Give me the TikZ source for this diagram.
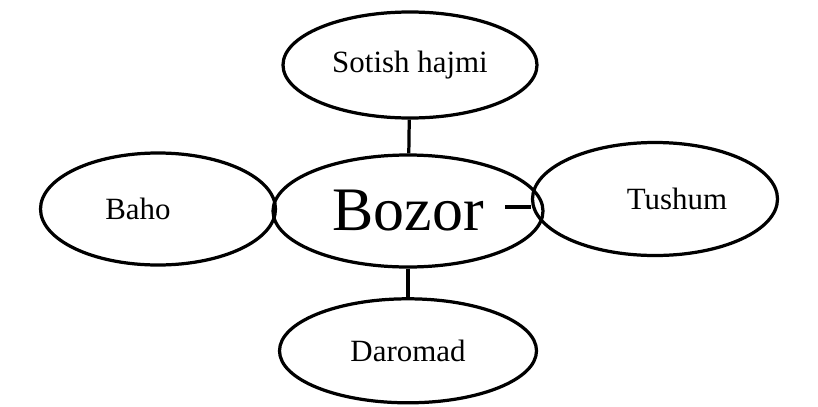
\documentclass[tikz,border=0pt]{standalone}
\usepackage{fontspec}
\setmainfont{Liberation Serif}
\usetikzlibrary{shapes.geometric}

\begin{document}
\begin{tikzpicture}[
    oval/.style={draw, ellipse, line width=2.3pt, inner sep=0pt, font=\fontsize{22}{26}\selectfont},
    link/.style={line width=2.3pt}]
\useasboundingbox (0,0) rectangle (20.45,10.15);

\node[oval, minimum width=6.75cm, minimum height=2.8cm, font=\fontsize{44}{50}\selectfont] (bozor) at (10.20,4.875) {Bozor};
\node[oval, minimum width=6.35cm, minimum height=2.65cm] (sotish) at (10.25,8.525) {Sotish hajmi};
\node[oval, minimum width=5.875cm, minimum height=2.8cm] (baho) at (3.95,4.925) {Baho\hspace{1cm}\mbox{}};
\node[oval, minimum width=6.125cm, minimum height=2.825cm] (tushum) at (16.375,5.175) {\hspace{1.1cm}Tushum};
\node[oval, minimum width=6.425cm, minimum height=2.6cm] (daromad) at (10.20,1.38) {Daromad};

\coordinate (dash) at (12.625,4.975);

\draw[link] (sotish) -- (bozor);
\draw[link] (bozor) -- (daromad);
\draw[link] (dash) -- (dash -| tushum.west);

\end{tikzpicture}
\end{document}
